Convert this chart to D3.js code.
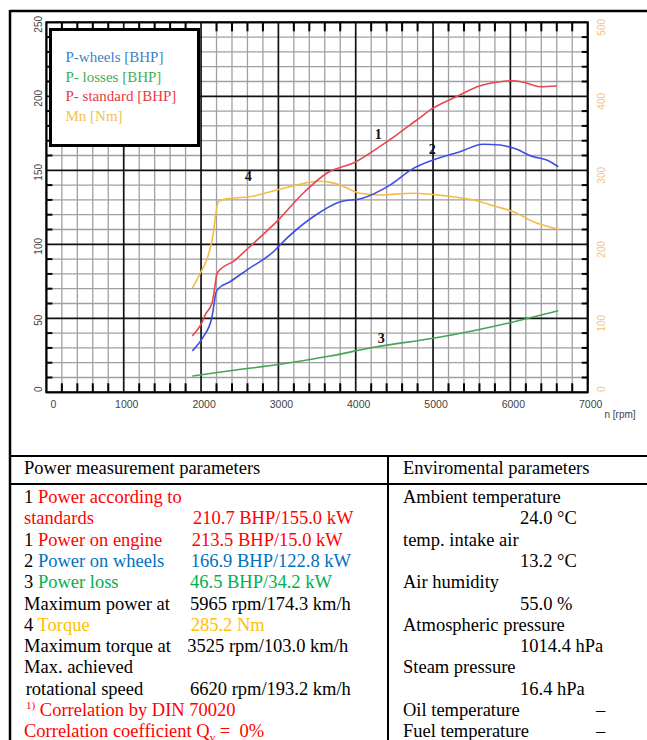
<!DOCTYPE html>
<html><head><meta charset="utf-8">
<script src="https://cdn.jsdelivr.net/npm/d3@7"></script>
<style>html,body{margin:0;padding:0;background:#fff;}svg{display:block;}</style>
</head><body>
<svg id="chart" width="647" height="740"></svg>
<script>
// ---------- DATA ----------
const rpmStd   = [1887, 2000, 2060, 2140, 2175, 2205, 2270, 2420, 2600, 3000, 3320, 3625, 4010, 4310, 4530, 4790, 5000, 5300, 5600, 5820, 6020, 6170, 6380, 6600];
const pStandard= [38, 46, 53, 60, 70, 80, 84, 88.5, 97, 116.5, 134.5, 148, 156, 166, 174, 184, 192, 199.7, 207, 209.5, 210.5, 209.5, 206.5, 207];

const rpmWheels= [1887, 2030, 2137, 2170, 2190, 2223, 2374, 2590, 2956, 3020, 3450, 3800, 4077, 4443, 4745, 5003, 5348, 5650, 5866, 6038, 6297, 6470, 6620];
const pWheels  = [28, 37.6, 50, 60, 67, 70, 74.7, 82.6, 96, 99.5, 118.6, 128.8, 131, 140, 151.3, 157, 162.6, 167.6, 167.1, 165, 159.2, 157, 152.4];

const rpmLoss  = [1887, 2374, 3021, 3667, 4271, 5003, 5520, 5995, 6620];
const pLoss    = [11, 14.6, 18.9, 24.5, 30.8, 36.5, 41.6, 47, 55.1];

const rpmTorque= [1887, 1988, 2073, 2116, 2159, 2190, 2223, 2374, 2633, 2978, 3150, 3366, 3525, 3660, 3797, 4055, 4314, 4745, 5176, 5520, 5823, 6038, 6297, 6620];
const torqueNm = [140.5, 160.8, 178.8, 194, 215, 240, 257.6, 262, 264.3, 273.4, 277.8, 283.2, 285.2, 284, 280.1, 268.9, 266.6, 268.9, 265.3, 259.9, 250.8, 244, 230.5, 220.3];

const xTicks   = [0, 1000, 2000, 3000, 4000, 5000, 6000, 7000];
const yTicks   = [0, 50, 100, 150, 200, 250];
const y2Ticks  = [0, 100, 200, 300, 400, 500];

const legendLabels = ["P-wheels [BHP]", "P- losses [BHP]", "P- standard [BHP]", "Mn [Nm]"];
const curveLabels  = ["1", "2", "3", "4"];

const leftHeader  = "Power measurement parameters";
const rightHeader = "Enviromental parameters";
const leftLabels  = ["1 |Power according to", "|standards", "1 |Power on engine", "2 |Power on wheels", "3 |Power loss",
                     "Maximum power at", "4 |Torque", "Maximum torque at", "Max. achieved", " rotational speed"];
const leftValues  = ["", "210.7 BHP/155.0 kW", "213.5 BHP/15.0 kW", "166.9 BHP/122.8 kW", "46.5 BHP/34.2 kW",
                     "5965 rpm/174.3 km/h", "285.2 Nm", "3525 rpm/103.0 km/h", "", "6620 rpm/193.2 km/h"];
const footNote1   = ["1)", " Correlation by DIN 70020"];
const footNote2   = ["Correlation coefficient Q", "v", " =  0%"];
const envLabels   = ["Ambient temperature", "temp. intake air", "Air humidity", "Atmospheric pressure", "Steam pressure", "Oil temperature", "Fuel temperature"];
const envValues   = ["24.0 °C", "13.2 °C", "55.0 %", "1014.4 hPa", "16.4 hPa", "–", "–"];

// ---------- STYLE ----------
const C = {
  lineRed: "#e8474f", lineBlue: "#3d4ee6", lineGreen: "#45a552", lineOrange: "#f5bb45",
  legBlue: "#3f7fca", legGreen: "#3fae5a", legRed: "#e83a42", legOrange: "#f2c24e",
  tRed: "#ff0000", tBlue: "#0070c0", tGreen: "#00b050", tGold: "#ffc000",
  axisLbl: "#444", y2Lbl: "#f7c46c"
};
const rowColors = [C.tRed, C.tRed, C.tRed, C.tBlue, C.tGreen, "#000", C.tGold, "#000", "#000", "#000"];

const svg = d3.select("#chart");
const x  = d3.scaleLinear().domain([0, 7000]).range([46.4, 587.7]);
const y  = d3.scaleLinear().domain([0, 250]).range([392.3, 22.3]);
const y2 = d3.scaleLinear().domain([0, 500]).range([392.3, 22.3]);

// outer frame
svg.append("line").attr("x1", 10).attr("x2", 647).attr("y1", 11).attr("y2", 11).attr("stroke", "#000").attr("stroke-width", 2.5);
svg.append("line").attr("x1", 10).attr("x2", 10).attr("y1", 10).attr("y2", 740).attr("stroke", "#000").attr("stroke-width", 2.5);

// grid
const g = svg.append("g");
const minorX = d3.range(0, 7001, 200).filter(v => v % 1000 !== 0);
const minorY = d3.range(0, 251, 10).filter(v => v % 50 !== 0);
g.selectAll(".mx").data(minorX).join("line")
  .attr("x1", d => x(d)).attr("x2", d => x(d)).attr("y1", y(250)).attr("y2", y(0))
  .attr("stroke", "#a0a0a0").attr("stroke-width", 1.3);
g.selectAll(".my").data(minorY).join("line")
  .attr("x1", x(0)).attr("x2", x(7000)).attr("y1", d => y(d)).attr("y2", d => y(d))
  .attr("stroke", "#a0a0a0").attr("stroke-width", 1.3);
g.selectAll(".Mx").data(xTicks).join("line")
  .attr("x1", d => x(d)).attr("x2", d => x(d)).attr("y1", y(250)).attr("y2", y(0))
  .attr("stroke", "#111").attr("stroke-width", 1.7);
g.selectAll(".My").data(yTicks).join("line")
  .attr("x1", x(0)).attr("x2", x(7000)).attr("y1", d => y(d)).attr("y2", d => y(d))
  .attr("stroke", "#111").attr("stroke-width", 1.7);

// tick marks
g.selectAll(".tb").data(minorX).join("line")
  .attr("x1", d => x(d)).attr("x2", d => x(d)).attr("y1", y(0)).attr("y2", y(0) - 9)
  .attr("stroke", "#000").attr("stroke-width", 2);
g.selectAll(".tt").data(minorX).join("line")
  .attr("x1", d => x(d)).attr("x2", d => x(d)).attr("y1", y(250)).attr("y2", y(250) + 9)
  .attr("stroke", "#000").attr("stroke-width", 2);
g.selectAll(".tl").data(minorY).join("line")
  .attr("x1", x(0)).attr("x2", x(0) + 6).attr("y1", d => y(d)).attr("y2", d => y(d))
  .attr("stroke", "#000").attr("stroke-width", 2);
g.selectAll(".tr").data(minorY).join("line")
  .attr("x1", x(7000)).attr("x2", x(7000) - 6).attr("y1", d => y(d)).attr("y2", d => y(d))
  .attr("stroke", "#000").attr("stroke-width", 2);

// plot border
g.append("rect").attr("x", x(0)).attr("y", y(250)).attr("width", x(7000) - x(0)).attr("height", y(0) - y(250))
  .attr("fill", "none").attr("stroke", "#000").attr("stroke-width", 2);

// axis labels
const lblFont = "'Liberation Sans', Arial, sans-serif";
svg.selectAll(".xl").data(xTicks).join("text")
  .attr("x", d => x(d) + (d === 0 ? 7 : 3)).attr("y", 408)
  .attr("text-anchor", "middle").attr("font-family", lblFont).attr("font-size", 10.5).attr("fill", C.axisLbl)
  .text(d => d);
svg.append("text").attr("x", 620).attr("y", 418).attr("text-anchor", "middle")
  .attr("font-family", lblFont).attr("font-size", 10).attr("fill", C.axisLbl).text("n [rpm]");
svg.selectAll(".yl").data(yTicks).join("text")
  .attr("transform", d => `translate(41.5,${y(d) + (d === 0 ? -3 : 2)}) rotate(-90)`)
  .attr("text-anchor", "middle").attr("font-family", lblFont).attr("font-size", 10).attr("fill", C.axisLbl)
  .text(d => d);
svg.selectAll(".y2l").data(y2Ticks).join("text")
  .attr("transform", d => `translate(605,${y2(d) + (d === 0 ? -3 : 5)}) rotate(-90)`)
  .attr("text-anchor", "middle").attr("font-family", lblFont).attr("font-size", 10).attr("fill", C.y2Lbl)
  .text(d => d);

// curves
const line = d3.line().curve(d3.curveMonotoneX);
function drawCurve(xs, ys, ysc, color) {
  svg.append("path").attr("d", line(xs.map((v, i) => [x(v), ysc(ys[i])])))
    .attr("fill", "none").attr("stroke", color).attr("stroke-width", 1.6).attr("stroke-linejoin", "round");
}
drawCurve(rpmLoss, pLoss, y, C.lineGreen);
drawCurve(rpmTorque, torqueNm, y2, C.lineOrange);
drawCurve(rpmWheels, pWheels, y, C.lineBlue);
drawCurve(rpmStd, pStandard, y, C.lineRed);

// curve numbers
const numPos = [[4290, 171], [4990, 161], [4330, 33], [2610, 285]];
const numScale = [y, y, y, y2];
svg.selectAll(".cn").data(curveLabels).join("text")
  .attr("x", (d, i) => x(numPos[i][0])).attr("y", (d, i) => numScale[i](numPos[i][1]))
  .attr("text-anchor", "middle").attr("font-family", "'Liberation Serif', 'Times New Roman', serif")
  .attr("font-weight", "bold").attr("font-size", 14).attr("fill", "#111").text(d => d);

// legend
svg.append("rect").attr("x", 50.5).attr("y", 29.5).attr("width", 148).attr("height", 116)
  .attr("fill", "#fff").attr("stroke", "#000").attr("stroke-width", 3);
const legColors = [C.legBlue, C.legGreen, C.legRed, C.legOrange];
svg.selectAll(".lg").data(legendLabels).join("text")
  .attr("x", 65.5).attr("y", (d, i) => 62 + i * 19.5)
  .attr("font-family", "'Liberation Serif', 'Times New Roman', serif").attr("font-size", 15)
  .attr("fill", (d, i) => legColors[i]).text(d => d);

// ---------- TABLE ----------
const tFont = "'Liberation Serif', 'Times New Roman', serif";
const tSize = 18.5;
svg.append("line").attr("x1", 10).attr("x2", 647).attr("y1", 456).attr("y2", 456).attr("stroke", "#000").attr("stroke-width", 2);
svg.append("line").attr("x1", 10).attr("x2", 647).attr("y1", 484).attr("y2", 484).attr("stroke", "#000").attr("stroke-width", 2);
svg.append("line").attr("x1", 388).attr("x2", 388).attr("y1", 456).attr("y2", 740).attr("stroke", "#000").attr("stroke-width", 2);

function T(xp, yp, txt, color) {
  return svg.append("text").attr("x", xp).attr("y", yp).attr("font-family", tFont).attr("font-size", tSize)
    .attr("fill", color || "#000").text(txt);
}
T(24, 474, leftHeader);
T(403, 474, rightHeader);

const base = i => 503 + 21.3 * i;
const valX = [0, 193, 191.7, 190.7, 190, 190, 190.7, 187.3, 0, 190];
leftLabels.forEach((lab, i) => {
  const parts = lab.split("|");
  const t = svg.append("text").attr("x", i === 9 ? 21 : 24).attr("y", base(i))
    .attr("font-family", tFont).attr("font-size", tSize).style("white-space", "pre");
  if (parts.length === 2) {
    if (parts[0]) t.append("tspan").attr("fill", "#000").text(parts[0]);
    t.append("tspan").attr("fill", rowColors[i]).text(parts[1]);
  } else {
    t.append("tspan").attr("fill", "#000").text(parts[0]);
  }
  if (leftValues[i]) T(valX[i], base(i), leftValues[i], rowColors[i]);
});
// footnotes
const f1 = svg.append("text").attr("x", 26).attr("y", base(10)).attr("font-family", tFont).attr("font-size", tSize)
  .attr("fill", C.tRed).style("white-space", "pre");
f1.append("tspan").attr("font-size", 11).attr("dy", -7).text(footNote1[0]);
f1.append("tspan").attr("dy", 7).text(footNote1[1]);
const f2 = svg.append("text").attr("x", 24).attr("y", base(11)).attr("font-family", tFont).attr("font-size", tSize)
  .attr("fill", C.tRed).style("white-space", "pre");
f2.append("tspan").text(footNote2[0]);
f2.append("tspan").attr("font-size", 11).attr("dy", 4).text(footNote2[1]);
f2.append("tspan").attr("dy", -4).text(footNote2[2]);

// environmental
envLabels.forEach((lab, i) => {
  if (i < 5) {
    T(403, base(2 * i), lab);
    T(520, base(2 * i + 1), envValues[i]);
  } else {
    const row = 10 + (i - 5);
    T(403, base(row), lab);
    T(596, base(row), envValues[i]);
  }
});
</script>
</body></html>
